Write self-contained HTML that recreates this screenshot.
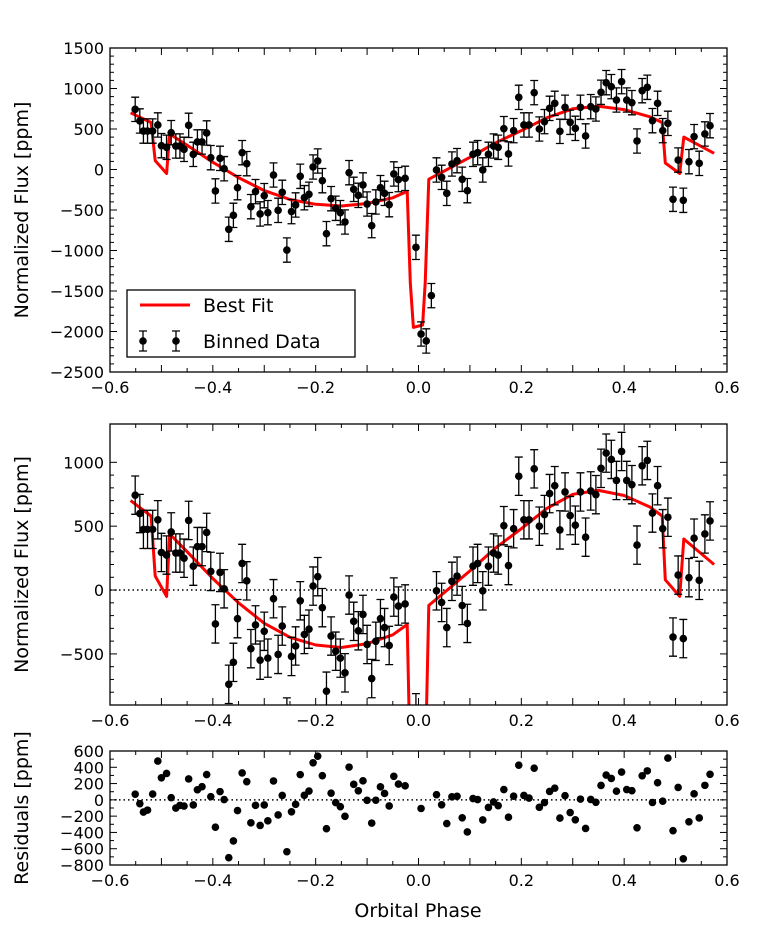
<!DOCTYPE html>
<html><head><meta charset="utf-8"><style>
body{margin:0;background:#fff}
svg text{font-family:"DejaVu Sans","Liberation Sans",sans-serif;fill:#000}
</style></head><body>
<svg id="fig" width="764" height="940" xmlns="http://www.w3.org/2000/svg"></svg>
<script>
const phase=[-0.551,-0.542,-0.535,-0.527,-0.517,-0.507,-0.5,-0.49,-0.481,-0.472,-0.464,-0.456,-0.447,-0.438,-0.43,-0.421,-0.412,-0.404,-0.395,-0.386,-0.378,-0.369,-0.36,-0.352,-0.343,-0.334,-0.326,-0.317,-0.308,-0.3,-0.293,-0.282,-0.273,-0.265,-0.256,-0.247,-0.239,-0.23,-0.222,-0.213,-0.205,-0.196,-0.187,-0.179,-0.17,-0.161,-0.152,-0.143,-0.135,-0.126,-0.117,-0.108,-0.1,-0.091,-0.083,-0.074,-0.066,-0.057,-0.048,-0.039,-0.026,-0.005,0.005,0.015,0.025,0.035,0.045,0.055,0.065,0.075,0.085,0.095,0.106,0.115,0.125,0.136,0.146,0.155,0.166,0.175,0.185,0.195,0.205,0.215,0.225,0.235,0.245,0.255,0.265,0.275,0.285,0.295,0.305,0.315,0.325,0.335,0.345,0.355,0.365,0.375,0.385,0.395,0.405,0.415,0.425,0.435,0.445,0.455,0.465,0.475,0.485,0.495,0.505,0.515,0.526,0.536,0.546,0.557,0.567];
const flux=[743,599,475,475,475,550,294,274,455,290,290,249,545,187,340,340,451,146,-265,138,10,-738,-566,-224,208,72,-459,-273,-549,-323,-533,-68,-504,-282,-994,-520,-438,-84,-348,-306,31,105,-138,-792,-360,-479,-533,-648,-39,-245,-319,-191,-426,-693,-401,-224,-294,-434,-55,-125,-109,-961,-2031,-2117,-1557,-6,-97,-294,68,109,-121,-261,187,208,-6,187,290,274,504,192,480,891,550,550,949,500,591,755,817,471,768,583,508,768,414,776,747,953,1072,1023,858,1085,858,825,352,973,1015,603,817,480,570,-368,117,-380,97,406,76,439,541,480];
const errBar=150;
const modelPhase=[-0.56,-0.52,-0.512,-0.49,-0.484,-0.45,-0.4,-0.35,-0.3,-0.25,-0.2,-0.15,-0.1,-0.05,-0.022,-0.016,-0.01,0.008,0.013,0.02,0.05,0.1,0.15,0.2,0.25,0.3,0.35,0.4,0.45,0.474,0.48,0.508,0.516,0.575];
const modelFlux=[700,580,110,-50,440,300,90,-100,-260,-370,-430,-450,-420,-350,-270,-1400,-1950,-1920,-1400,-120,-20,150,330,480,640,750,780,740,650,580,80,-50,400,200];
const xTicks=[-0.6,-0.4,-0.2,0.0,0.2,0.4,0.6];
const y1Ticks=[1500,1000,500,0,-500,-1000,-1500,-2000,-2500];
const y2Ticks=[1000,500,0,-500];
const y3Ticks=[600,400,200,0,-200,-400,-600,-800];

const NS="http://www.w3.org/2000/svg";
const svg=document.getElementById('fig');
function mk(tag,attrs,parent){const e=document.createElementNS(NS,tag);for(const k in attrs)e.setAttribute(k,attrs[k]);(parent||svg).appendChild(e);return e;}
function modelAt(p){if(p<=modelPhase[0])return modelFlux[0];for(let i=1;i<modelPhase.length;i++){if(p<=modelPhase[i]){const t=(p-modelPhase[i-1])/(modelPhase[i]-modelPhase[i-1]);return modelFlux[i-1]+t*(modelFlux[i]-modelFlux[i-1]);}}return modelFlux[modelFlux.length-1];}
const resid=phase.map((p,i)=>flux[i]-modelAt(p));
const X0=110,X1=727;
const sx=p=>X0+(p+0.6)/1.2*(X1-X0);

function panel(id,top,bot,ymin,ymax,yt,opts){
  const sy=v=>bot-(v-ymin)/(ymax-ymin)*(bot-top);
  const g=mk('g',{});
  
  
  const cp=mk('clipPath',{id:'clip-'+id},g);mk('rect',{x:X0,y:top,width:X1-X0,height:bot-top},cp);
  const inner=mk('g',{'clip-path':'url(#clip-'+id+')'},g);
  if(opts.zero){const z=mk('line',{x1:X0,x2:X1,y1:sy(0),y2:sy(0),stroke:'#000','stroke-width':1.5,'stroke-dasharray':'1.5,3'},inner);
    
    }
  if(opts.model){let d='';modelPhase.forEach((p,i)=>{d+=(i?'L':'M')+sx(p).toFixed(1)+','+sy(modelFlux[i]).toFixed(1);});
    const m=mk('path',{d:d,fill:'none',stroke:'#f00','stroke-width':3,'stroke-linejoin':'round'},inner);
    
    }
  const vals=opts.vals;
  vals.forEach((v,i)=>{const x=sx(phase[i]),y=sy(v);
    if(opts.err){const e=mk('path',{d:`M${x},${sy(v-errBar)}V${sy(v+errBar)}M${x-4},${sy(v-errBar)}h8M${x-4},${sy(v+errBar)}h8`,stroke:'#000','stroke-width':1.3,fill:'none'},inner);
      
      }
    const c=mk('circle',{cx:x,cy:y,r:3.8,fill:'#000'},inner);
    
    
  });
  mk('rect',{x:X0,y:top,width:X1-X0,height:bot-top,fill:'none',stroke:'#000','stroke-width':1.3},g);
  for(let p=-0.6;p<=0.601;p+=0.05){const x=sx(p);const maj=Math.abs(Math.round(p*10)-p*10)<0.01;const L=maj?7:4;
    mk('line',{x1:x,x2:x,y1:bot,y2:bot-L,stroke:'#000'},g);mk('line',{x1:x,x2:x,y1:top,y2:top+L,stroke:'#000'},g);}
  xTicks.forEach(p=>{const t=mk('text',{x:sx(p),y:bot+21,'text-anchor':'middle','font-size':16},g);t.textContent=(p<0?'\u2212':'')+Math.abs(p).toFixed(1);
    
    });
  yt.forEach((v,i)=>{const y=sy(v);
    mk('line',{x1:X0,x2:X0+7,y1:y,y2:y,stroke:'#000'},g);mk('line',{x1:X1,x2:X1-7,y1:y,y2:y,stroke:'#000'},g);
    if(i<yt.length-1||opts.lastMinor){const step=(yt[0]-yt[1])/opts.minor;for(let k=1;k<opts.minor;k++){const ym=sy(v-k*step);if(ym<=bot&&ym>=top){mk('line',{x1:X0,x2:X0+4,y1:ym,y2:ym,stroke:'#000'},g);mk('line',{x1:X1,x2:X1-4,y1:ym,y2:ym,stroke:'#000'},g);}}}
    const t=mk('text',{x:X0-6,y:y+6,'text-anchor':'end','font-size':16},g);t.textContent=(v<0?'\u2212':'')+Math.abs(v);
    
    });
  const cy=(top+bot)/2;
  const tl=mk('text',{x:28,y:cy,'text-anchor':'middle','font-size':19,transform:`rotate(-90 28 ${cy})`},g);tl.textContent=opts.title;
  
  
  return g;
}
panel('top-panel',48,372,-2500,1500,y1Ticks,{vals:flux,err:true,model:true,title:'Normalized Flux [ppm]',minor:5,lastMinor:false});
panel('zoom-panel',424,705,-900,1300,y2Ticks,{vals:flux,err:true,model:true,zero:true,title:'Normalized Flux [ppm]',minor:5,lastMinor:true});
panel('residual-panel',751,865,-800,600,y3Ticks,{vals:resid,err:false,model:false,zero:true,title:'Residuals [ppm]',minor:2,lastMinor:false});
const xl=mk('text',{x:418,y:917,'text-anchor':'middle','font-size':19});xl.textContent='Orbital Phase';


const lg=mk('g',{});


mk('rect',{x:127,y:290,width:228,height:67,fill:'#fff',stroke:'#000','stroke-width':1.3},lg);
mk('line',{x1:140,x2:190,y1:305,y2:305,stroke:'#f00','stroke-width':3},lg);
const t1=mk('text',{x:203,y:312,'font-size':19},lg);t1.textContent='Best Fit';


[143,176].forEach(x=>{mk('path',{d:`M${x},331V351M${x-4},331h8M${x-4},351h8`,stroke:'#000','stroke-width':1.3,fill:'none'},lg);mk('circle',{cx:x,cy:341,r:3.8,fill:'#000'},lg);});
const t2=mk('text',{x:203,y:348,'font-size':19},lg);t2.textContent='Binned Data';


</script>
</body></html>
